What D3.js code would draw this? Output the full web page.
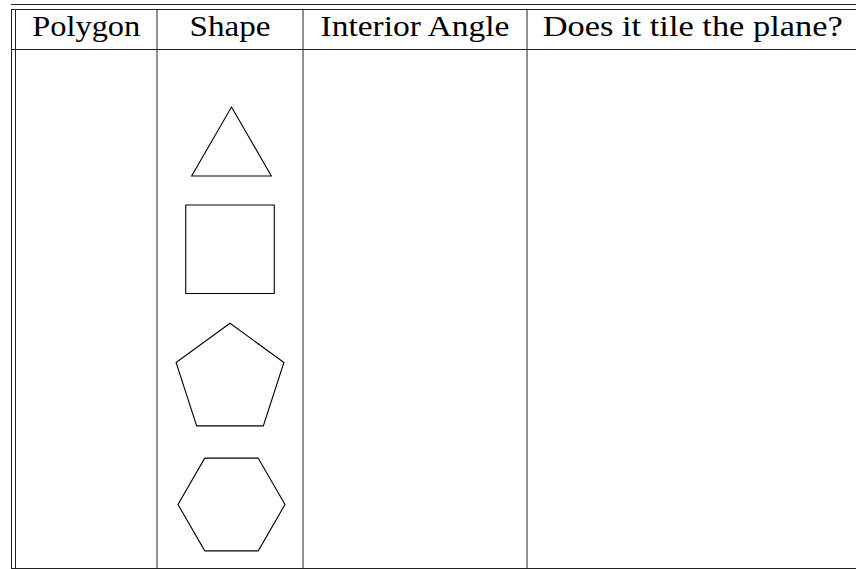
<!DOCTYPE html>
<html>
<head>
<meta charset="utf-8">
<style>
    body {
        margin: 0;
        background: #ffffff;
    }
    svg {
        display: block;
    }
    text {
        font-family: "Liberation Serif", "Times New Roman", serif;
        font-weight: normal;
        fill: #000000;
    }
</style>
<script src="https://d3js.org/d3.v7.min.js"></script>
</head>
<body>
<svg id="Table"></svg>
<script>
// table content
let headers = ["Polygon", "Shape", "Interior Angle", "Does it tile the plane?"]
let sides = [3, 4, 5, 6]

// layout (pixels)
let width = 856, height = 569
let colEdges = [15.5, 157, 303, 527, 858.5]
let headerWidths = [108, 81, 189, 300]
let baseline = 36
let shapeCentersY = [153, 249.2, 380, 504.5]
let shapeRadius = [46, 62.6, 56.7, 53.5]
let shapeOffsetX = [1.5, 0, 0, 1.5]

function drawTable() {
    let svg = d3.select("#Table")
        .attr("width", width)
        .attr("height", height)

    let lines = svg.append("g")
        .attr("stroke", "#222222")
        .attr("stroke-width", 1)
        .attr("fill", "none")

    // horizontal rules: double top rule, header rule, bottom rule
    let hRules = [4.5, 9.5, 49.5, 568.5]
    lines.selectAll("line.h").data(hRules)
        .enter().append("line")
        .attr("class", "h")
        .attr("x1", 11)
        .attr("x2", width)
        .attr("y1", d => d)
        .attr("y2", d => d)

    // vertical rules: extra left rule plus column separators
    let vRules = [11.5].concat(colEdges.slice(0, 4))
    lines.selectAll("line.v").data(vRules)
        .enter().append("line")
        .attr("class", "v")
        .attr("x1", d => d)
        .attr("x2", d => d)
        .attr("y1", 9.5)
        .attr("y2", 568.5)

    // header texts centered in columns, stretched to the reference widths
    svg.selectAll("text.head").data(headers)
        .enter().append("text")
        .attr("class", "head")
        .attr("x", (d, i) => (colEdges[i] + colEdges[i + 1]) / 2)
        .attr("y", baseline)
        .attr("text-anchor", "middle")
        .attr("font-size", 30)
        .attr("textLength", (d, i) => headerWidths[i])
        .attr("lengthAdjust", "spacingAndGlyphs")
        .text(d => d)

    // regular polygons in the Shape column
    let shapeCx = (colEdges[1] + colEdges[2]) / 2
    let radial = d3.lineRadial().curve(d3.curveLinearClosed)
    svg.selectAll("path.poly").data(sides)
        .enter().append("path")
        .attr("class", "poly")
        .attr("transform", (d, i) => "translate(" + (shapeCx + shapeOffsetX[i]) + "," + shapeCentersY[i] + ")")
        .attr("d", (n, i) => {
            let offset = n % 2 == 0 ? Math.PI / n : 0
            let pts = d3.range(n).map(k => [offset + k * 2 * Math.PI / n, shapeRadius[i]])
            return radial(pts)
        })
        .attr("fill", "none")
        .attr("stroke", "#000000")
        .attr("stroke-width", 1.1)
        .attr("stroke-linejoin", "miter")
}

drawTable()
</script>
</body>
</html>
